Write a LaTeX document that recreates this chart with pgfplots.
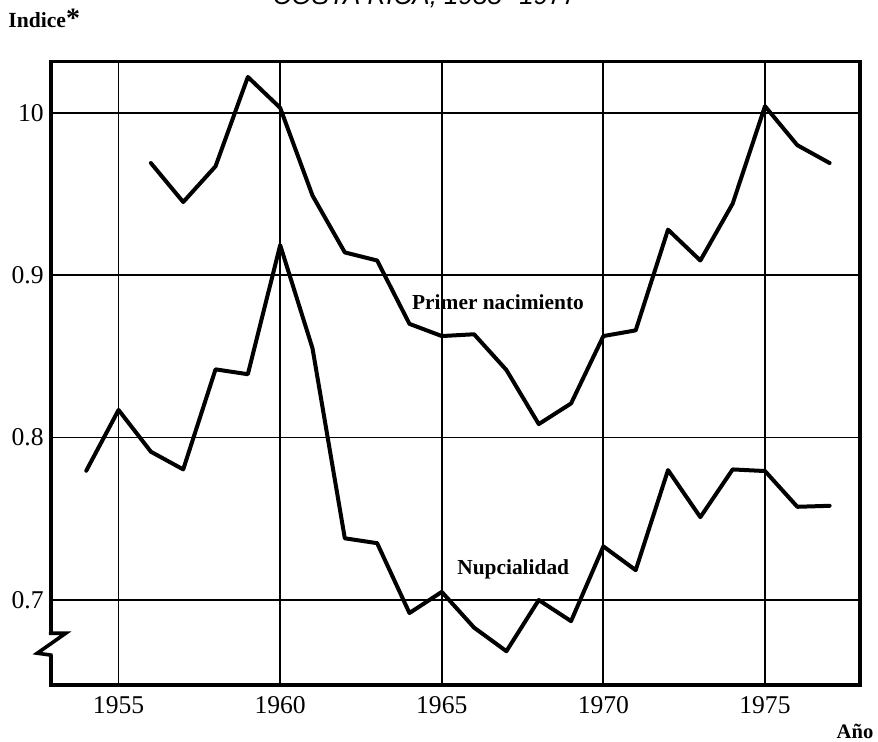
\documentclass[border=0pt]{standalone}
\usepackage{fontspec}
\setmainfont{Liberation Serif}
\newfontfamily\titlefont{Liberation Sans}
\usepackage{pgfplots}
\pgfplotsset{compat=1.18}
\begin{document}
\begin{tikzpicture}[x=1pt,y=1pt]
\useasboundingbox (0,0) rectangle (439,371);
\begin{axis}[
  at={(25.35pt,28.5pt)}, anchor=south west,
  width=404.65pt, height=311.65pt, scale only axis,
  xmin=1952.9, xmax=1977.94, ymin=0.6477, ymax=1.0314,
  xtick={1955,1960,1965,1970,1975},
  ytick={0.7,0.8,0.9,1.0},
  yticklabels={0.7,0.8,0.9,10},
  xticklabels={1955,1960,1965,1970,1975},
  tick label style={font=\fontsize{12.8}{14}\selectfont},
  xticklabel style={yshift=-2pt},
  grid=major,
  major grid style={black, line width=0.9pt},
  major tick length=0pt,
  axis line style={black, line width=1.8pt},
  clip=false,
  /pgf/number format/assume math mode=true,
]
\addplot[black, line width=2pt, line join=round, line cap=round] coordinates {
(1956,0.969) (1957,0.945) (1958,0.967) (1959,1.022) (1960,1.003)
(1961,0.949) (1962,0.914) (1963,0.909) (1964,0.870) (1965,0.8625)
(1966,0.8636) (1967,0.8416) (1968,0.8083) (1969,0.821) (1970,0.8625)
(1971,0.866) (1972,0.928) (1973,0.909) (1974,0.944) (1975,1.004)
(1976,0.980) (1977,0.969)
};
\addplot[black, line width=2pt, line join=round, line cap=round] coordinates {
(1954,0.7796) (1955,0.817) (1956,0.7913) (1957,0.7804) (1958,0.842)
(1959,0.839) (1960,0.9185) (1961,0.855) (1962,0.738) (1963,0.735)
(1964,0.692) (1965,0.705) (1966,0.683) (1967,0.6685) (1968,0.700)
(1969,0.687) (1970,0.733) (1971,0.7184) (1972,0.780) (1973,0.751)
(1974,0.7804) (1975,0.7794) (1976,0.7574) (1977,0.758)
};
\node[font=\fontsize{10.7}{12}\selectfont\bfseries] at (axis cs:1966.74,0.8836) {Primer nacimiento};
\node[font=\fontsize{10.7}{12}\selectfont\bfseries] at (axis cs:1967.21,0.7188) {Nupcialidad};
% axis break
\draw[white, line width=3pt] (rel axis cs:0,0.083) -- (rel axis cs:0,0.048);
\draw[black, line width=1.8pt, line join=miter]
  (rel axis cs:0,0.085) -- (rel axis cs:0,0.083)
  -- ([xshift=7.5pt]rel axis cs:0,0.083)
  -- ([xshift=-6.7pt]rel axis cs:0,0.051)
  -- (rel axis cs:0,0.048) -- (rel axis cs:0,0.046);
\end{axis}
\node[anchor=base west, inner sep=0pt, font=\fontsize{10.8}{12}\selectfont\bfseries] at (4,357.4) {Indice{\fontsize{14}{14}\selectfont *}};
\node[font=\fontsize{10.3}{12}\selectfont\bfseries] at (427.5,5.5) {Año};
\node[anchor=base, font=\fontsize{13}{14}\selectfont\titlefont\itshape] at (212.5,368.5) {COSTA RICA, 1955--1977};
\end{tikzpicture}
\end{document}
